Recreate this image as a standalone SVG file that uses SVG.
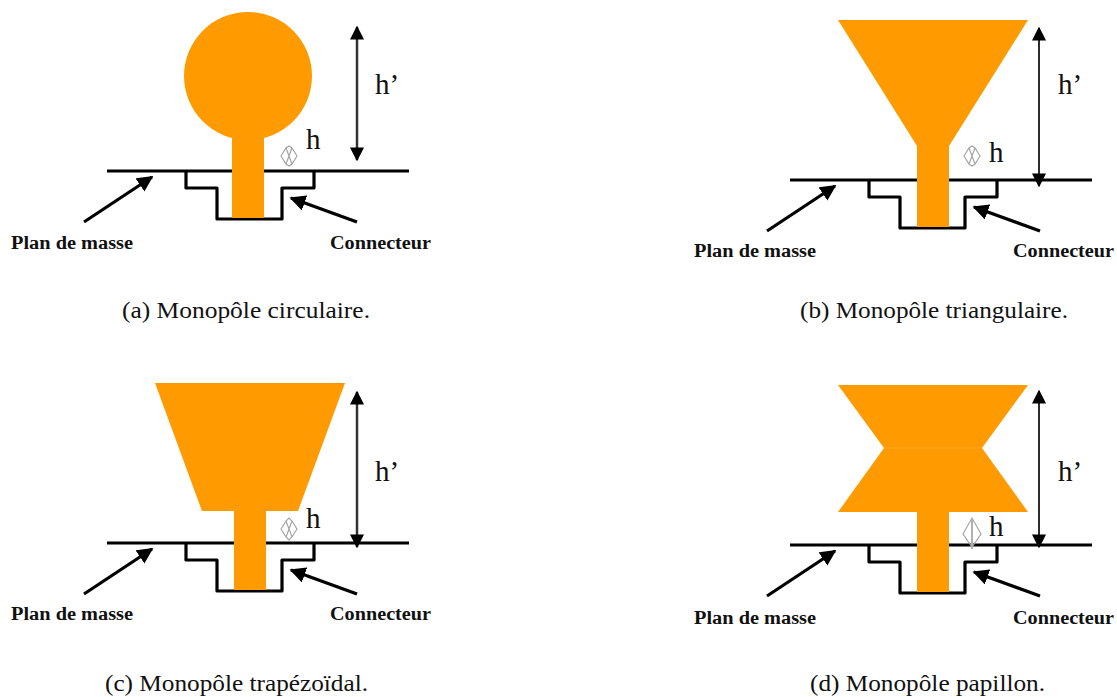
<svg xmlns="http://www.w3.org/2000/svg" width="1117" height="697" viewBox="0 0 1117 697">
<style>
.o{fill:#ff9b00}
.k{fill:none;stroke:#000;stroke-width:3.2;stroke-linejoin:round}
.a{fill:none;stroke:#000;stroke-width:3.2}
.d{fill:none;stroke:#333;stroke-width:2.5}
.e{fill:none;stroke:#222;stroke-width:1.9}
.m{fill:none;stroke:#a0a0a0;stroke-width:1.1}
.l{font-family:"Liberation Serif",serif;font-weight:bold;font-size:18px;fill:#111}
.c{font-family:"Liberation Serif",serif;font-size:24px;fill:#111}
.h{font-family:"Liberation Serif",serif;font-size:29px;fill:#111}
</style>
<defs>
<marker id="ah" viewBox="0 0 10 10" refX="9" refY="5" markerWidth="5" markerHeight="5" orient="auto"><path d="M0 0L10 5L0 10z" fill="#000"/></marker>
<marker id="av" viewBox="0 0 10 10" refX="9" refY="5" markerWidth="14" markerHeight="14" orient="auto-start-reverse" markerUnits="userSpaceOnUse"><path d="M0 0L10 5L0 10z" fill="#000"/></marker>
<g id="base">
<path class="k" d="M107 171H409"/>
<path class="k" d="M186 171V188H217V219H282V188H314V171"/>
<path class="a" d="M84 222L152 177" marker-end="url(#ah)"/>
<path class="a" d="M357 222L291 198" marker-end="url(#ah)"/>
</g>
</defs>
<g id="connectors"></g>
<g id="monopole-a">
<use href="#base"/>
<circle class="o" cx="248" cy="76" r="64"/>
<rect class="o" x="232" y="130" width="32" height="88"/>
<path class="d" d="M357 27V160" marker-start="url(#av)" marker-end="url(#av)"/>
<path class="m" d="M281 156L286 148L289 146L292 148L297 156L292 164L289 166L286 164zM286 148L292 164M292 148L286 164"/>
<text class="h" x="375" y="94">h’</text>
<text class="h" x="306" y="149">h</text>
<text class="l" x="11" y="249" textLength="122" lengthAdjust="spacingAndGlyphs">Plan de masse</text>
<text class="l" x="330" y="249" textLength="101" lengthAdjust="spacingAndGlyphs">Connecteur</text>
<text class="c" x="122" y="318" textLength="248" lengthAdjust="spacingAndGlyphs">(a) Monopôle circulaire.</text>
</g>
<g id="monopole-b">
<g transform="translate(683 9)"><use href="#base"/></g>
<polygon class="o" points="838,20 1028,20 949,146 949,227 917,227 917,146"/>
<path class="e" d="M1039 28V186" marker-start="url(#av)" marker-end="url(#av)"/>
<path class="m" d="M964 156L969 148L972 146L975 148L980 156L975 164L972 166L969 164zM969 148L975 164M975 148L969 164"/>
<text class="h" x="1058" y="94">h’</text>
<text class="h" x="989" y="162">h</text>
<text class="l" x="694" y="257" textLength="122" lengthAdjust="spacingAndGlyphs">Plan de masse</text>
<text class="l" x="1013" y="257" textLength="101" lengthAdjust="spacingAndGlyphs">Connecteur</text>
<text class="c" x="800" y="318" textLength="268" lengthAdjust="spacingAndGlyphs">(b) Monopôle triangulaire.</text>
</g>
<g id="monopole-c">
<g transform="translate(0 372)"><use href="#base"/></g>
<polygon class="o" points="155,383 345,383 298,511 266,511 266,590 234,590 234,511 202,511"/>
<path class="d" d="M357 392V547" marker-start="url(#av)" marker-end="url(#av)"/>
<path class="m" d="M281 529L286 521L289 518L292 521L297 529L292 537L289 540L286 537zM286 521L292 537M292 521L286 537"/>
<text class="h" x="375" y="481">h’</text>
<text class="h" x="306" y="528">h</text>
<text class="l" x="11" y="620" textLength="122" lengthAdjust="spacingAndGlyphs">Plan de masse</text>
<text class="l" x="330" y="620" textLength="101" lengthAdjust="spacingAndGlyphs">Connecteur</text>
<text class="c" x="105" y="691" textLength="263" lengthAdjust="spacingAndGlyphs">(c) Monopôle trapézoïdal.</text>
</g>
<g id="monopole-d">
<g transform="translate(683 374)"><use href="#base"/></g>
<polygon class="o" points="838,385 1028,385 982,448 1028,512 949,512 949,592 917,592 917,512 838,512 884,448"/>
<path d="M884 448H982" fill="none" stroke="#ffa826" stroke-width="1"/>
<path class="e" d="M1039 391V547" marker-start="url(#av)" marker-end="url(#av)"/>
<path class="m" d="M963 534L972 518L981 534L972 547z"/>
<path fill="none" stroke="#b0b0b0" stroke-width="2" d="M972 519V549"/>
<text class="h" x="1058" y="481">h’</text>
<text class="h" x="989" y="536">h</text>
<text class="l" x="694" y="624" textLength="122" lengthAdjust="spacingAndGlyphs">Plan de masse</text>
<text class="l" x="1013" y="624" textLength="101" lengthAdjust="spacingAndGlyphs">Connecteur</text>
<text class="c" x="810" y="691" textLength="235" lengthAdjust="spacingAndGlyphs">(d) Monopôle papillon.</text>
</g>
</svg>
